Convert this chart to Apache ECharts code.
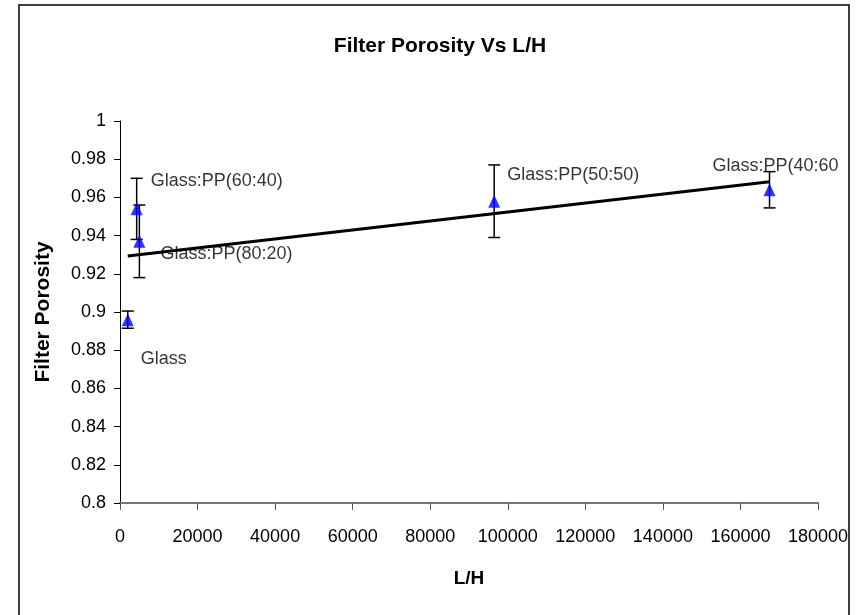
<!DOCTYPE html>
<html>
<head>
<meta charset="utf-8">
<script src="https://cdn.jsdelivr.net/npm/echarts@6/dist/echarts.min.js"></script>
<style>
html,body{margin:0;padding:0;background:#fff;}
#chart{width:860px;height:615px;}
</style>
</head>
<body>
<div id="chart"></div>
<script>
// ---- data ----
const pointNames = ['Glass', 'Glass:PP(60:40)', 'Glass:PP(80:20)', 'Glass:PP(50:50)', 'Glass:PP(40:60)'];
const lhValues = [2000, 4300, 5000, 96500, 167500];
const porosityValues = [0.896, 0.954, 0.937, 0.958, 0.964];
const errorValues = [0.0045, 0.016, 0.019, 0.019, 0.0095];
const xTicks = [0, 20000, 40000, 60000, 80000, 100000, 120000, 140000, 160000, 180000];
const yTicks = [0.8, 0.82, 0.84, 0.86, 0.88, 0.9, 0.92, 0.94, 0.96, 0.98, 1];

// label placement (pixel offsets, style only)
const labelOffsets = [[7, 39], [8, -28], [15, 13], [7, -26], [-63, -24]];

const SANS = "'Liberation Sans', Arial, sans-serif";

// linear trendline (least squares) from the data
const n = lhValues.length;
const mx = lhValues.reduce((a, b) => a + b, 0) / n;
const my = porosityValues.reduce((a, b) => a + b, 0) / n;
let sxy = 0, sxx = 0;
for (let i = 0; i < n; i++) { sxy += (lhValues[i] - mx) * (porosityValues[i] - my); sxx += (lhValues[i] - mx) ** 2; }
const slope = sxy / sxx, intercept = my - slope * mx;
const xMin = Math.min(...lhValues), xMax = Math.max(...lhValues);
const trend = [[xMin, intercept + slope * xMin], [xMax, intercept + slope * xMax]];

const scatterData = lhValues.map((x, i) => {
  const lab = { offset: labelOffsets[i] };
  if (i === lhValues.length - 1) { lab.width = 128; lab.overflow = 'truncate'; lab.ellipsis = ''; }
  return { value: [x, porosityValues[i]], name: pointNames[i], label: lab };
});
const errorData = lhValues.map((x, i) => [x, porosityValues[i] - errorValues[i], porosityValues[i] + errorValues[i]]);

const chart = echarts.init(document.getElementById('chart'));
chart.setOption({
  animation: false,
  backgroundColor: '#fff',
  title: {
    text: 'Filter Porosity Vs L/H',
    left: 435, top: 31, textAlign: 'center',
    textStyle: { fontFamily: SANS, fontSize: 21, fontWeight: 'bold', color: '#000' }
  },
  graphic: [{
    type: 'rect', shape: { x: 19, y: 5, width: 830, height: 640 },
    style: { fill: 'none', stroke: '#000', lineWidth: 1.5 }, silent: true, z: 100
  }],
  grid: { left: 120, right: 42, top: 121, bottom: 112 },
  xAxis: {
    type: 'value', min: xTicks[0], max: xTicks[xTicks.length - 1], interval: 20000,
    name: 'L/H', nameLocation: 'middle', nameGap: 66,
    nameTextStyle: { fontFamily: SANS, fontSize: 19, fontWeight: 'bold', color: '#000' },
    axisLine: { show: true, lineStyle: { color: '#777', width: 2 } },
    axisTick: { show: true, inside: false, length: 7, lineStyle: { color: '#555' } },
    axisLabel: { fontFamily: SANS, fontSize: 18, color: '#000', margin: 25,
      formatter: v => String(v) },
    splitLine: { show: false }
  },
  yAxis: {
    type: 'value', min: yTicks[0], max: yTicks[yTicks.length - 1], interval: 0.02,
    name: 'Filter Porosity', nameLocation: 'middle', nameGap: 66,
    nameTextStyle: { fontFamily: SANS, fontSize: 21, fontWeight: 'bold', color: '#000' },
    axisLine: { show: true, lineStyle: { color: '#000', width: 1 } },
    axisTick: { show: true, inside: false, length: 6, lineStyle: { color: '#000' } },
    axisLabel: { fontFamily: SANS, fontSize: 18, color: '#000', margin: 14,
      formatter: v => String(Math.round(v * 100) / 100) },
    splitLine: { show: false }
  },
  series: [
    {
      type: 'line', data: trend, showSymbol: false, symbol: 'none',
      lineStyle: { color: '#000', width: 3 }, z: 2
    },
    {
      type: 'custom', z: 3,
      renderItem: function (params, api) {
        const x = api.value(0);
        const lo = api.coord([x, api.value(1)]);
        const hi = api.coord([x, api.value(2)]);
        const w = 6;
        const st = { stroke: '#000', lineWidth: 1.5 };
        return {
          type: 'group', children: [
            { type: 'line', shape: { x1: lo[0], y1: lo[1], x2: hi[0], y2: hi[1] }, style: st },
            { type: 'line', shape: { x1: lo[0] - w, y1: lo[1], x2: lo[0] + w, y2: lo[1] }, style: st },
            { type: 'line', shape: { x1: hi[0] - w, y1: hi[1], x2: hi[0] + w, y2: hi[1] }, style: st }
          ]
        };
      },
      data: errorData
    },
    {
      type: 'scatter', data: scatterData, symbol: 'triangle', symbolSize: [12, 13],
      itemStyle: { color: '#0000ff' }, z: 4,
      label: {
        show: true, position: 'right', distance: 0,
        formatter: p => p.name,
        fontFamily: SANS, fontSize: 18, color: '#000'
      }
    }
  ]
});
</script>
</body>
</html>
